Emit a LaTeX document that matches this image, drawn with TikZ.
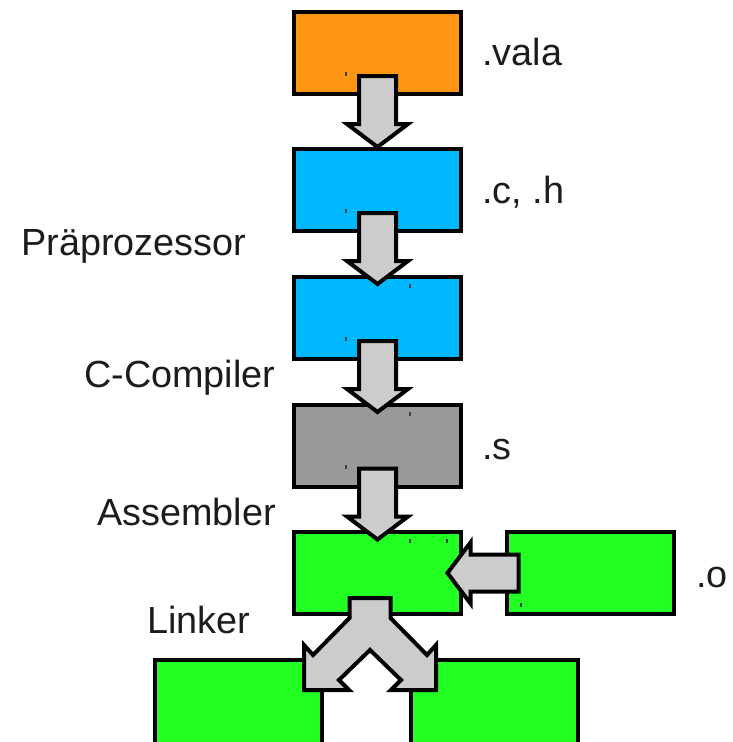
\documentclass[tikz,border=0pt]{standalone}
\usepackage{fontspec}
\setmainfont{Liberation Sans}
\usepackage{tikz}
\usetikzlibrary{calc}
\definecolor{valaorange}{HTML}{FF9612}
\definecolor{cblue}{HTML}{00B8FF}
\definecolor{asmgray}{HTML}{999999}
\definecolor{objgreen}{HTML}{22FF22}
\definecolor{flowgray}{HTML}{CCCCCC}
\definecolor{ink}{HTML}{1C1C1C}
\tikzset{
  filebox/.style={draw=black,line width=4pt,minimum width=167pt,minimum height=82pt,inner sep=0pt},
  flow/.style={draw=black,fill=flowgray,line width=4pt,line join=miter},
  tag/.style={anchor=base west,inner sep=0pt,text=ink,font=\fontsize{37.8}{45}\selectfont},
  tickmark/.style={draw=black!75,line width=1.2pt}
}
% block arrow: start point, direction
\newcommand{\flowarrow}[2]{%
  \begin{scope}[shift={#1},rotate=#2]
    \draw[flow] (0,-18.5)--(48,-18.5)--(48,-30.5)--(71,0)--(48,30.5)--(48,18.5)--(0,18.5)--cycle;
  \end{scope}}

\begin{document}
\begin{tikzpicture}[x=1pt,y=-1pt]
  \useasboundingbox (0,0) rectangle (733,742);
  \clip (0,0) rectangle (733,742);
  % files
  \node[filebox,fill=valaorange] (vala) at (377.5,53) {};
  \node[filebox,fill=cblue] (csrc) at (377.5,190) {};
  \node[filebox,fill=cblue] (cpre) at (377.5,318) {};
  \node[filebox,fill=asmgray] (asm) at (377.5,445.5) {};
  \node[filebox,fill=objgreen] (obj) at (377.5,573) {};
  \node[filebox,fill=objgreen] (objext) at (590,573) {};
  \node[filebox,fill=objgreen,minimum height=120pt] (binl) at (238.5,720) {};
  \node[filebox,fill=objgreen,minimum height=120pt] (binr) at (494.5,720) {};
  % small marks
  \foreach \b in {vala,csrc,cpre,asm}
    \draw[tickmark] ($(\b.center)+(-31.5,19)$) -- ++(0,4);
  \foreach \b in {cpre,asm,obj}
    \draw[tickmark] ($(\b.center)+(32.5,-34)$) -- ++(0,4);
  \draw[tickmark] ($(obj.center)+(69.5,-34)$) -- ++(0,4);
  \draw[tickmark] ($(objext.center)+(-69,30)$) -- ++(0,4);
  % arrows
  \flowarrow{($(vala.south)+(0,-20)$)}{-90}
  \flowarrow{($(csrc.south)+(0,-20)$)}{-90}
  \flowarrow{($(cpre.south)+(0,-20)$)}{-90}
  \flowarrow{($(asm.south)+(0,-20)$)}{-90}
  \flowarrow{($(objext.west)+(14,0)$)}{180}
  \coordinate (fork) at ($(obj.south)+(-7.5,0)$);
  \begin{scope}[shift={(fork)}]
    \draw[flow] (-20.5,-18)--(-20.5,2)--(-57,39)--(-66,29)--(-66,74)--(-21,74)--(-31,64)--(0,34)
      --(31,64)--(21,74)--(66,74)--(66,29)--(57,39)--(20.5,2)--(20.5,-18)--cycle;
  \end{scope}
  % labels
  \node[tag] (lvala) at (482,65) {.vala};
  \node[tag] (lch) at (482,203) {.c, .h};
  \node[tag] (lpre) at (21,255) {Präprozessor};
  \node[tag] (lcc) at (84,387) {C-Compiler};
  \node[tag] (ls) at (482,459) {.s};
  \node[tag] (las) at (97,525) {Assembler};
  \node[tag] (lo) at (696,587) {.o};
  \node[tag] (llink) at (147,633) {Linker};
\end{tikzpicture}
\end{document}
